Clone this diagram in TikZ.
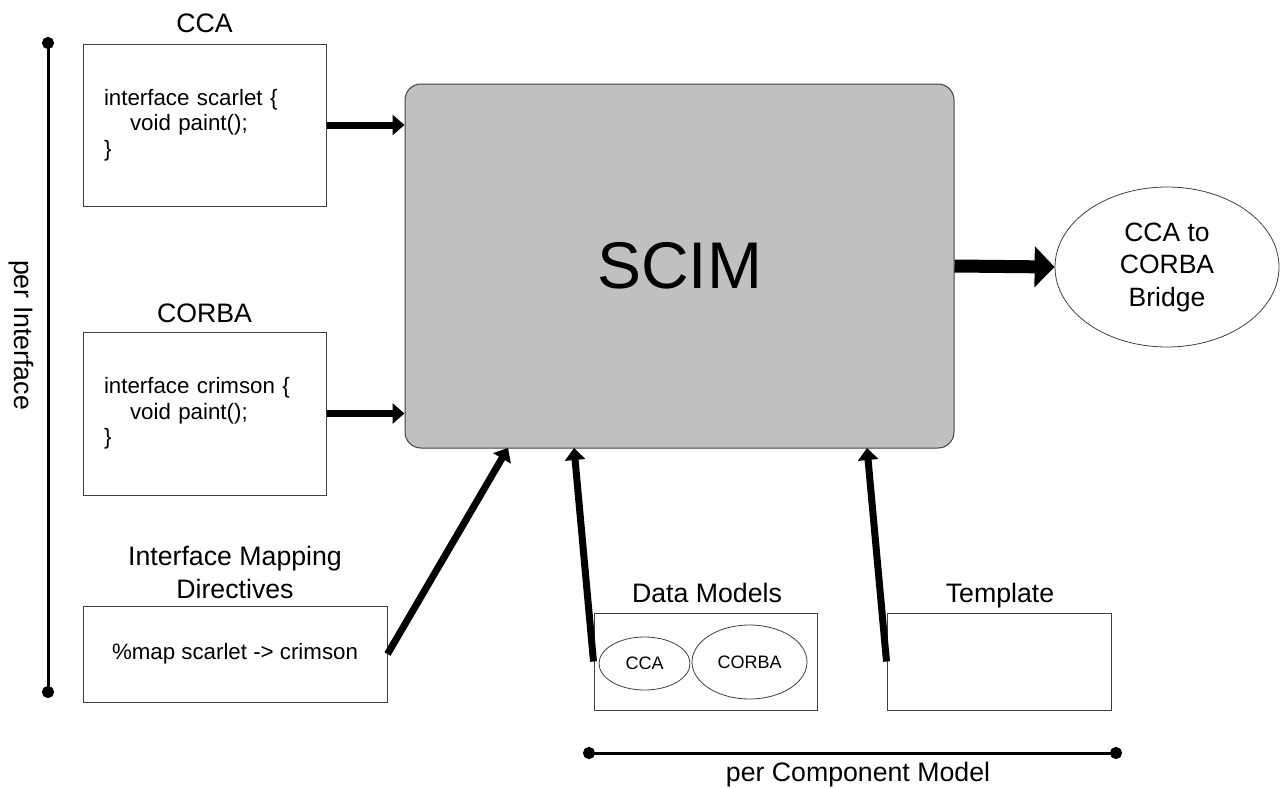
\documentclass[tikz,border=0pt]{standalone}
\usepackage{fontspec}
\setmainfont{Liberation Sans}
\usetikzlibrary{arrows.meta,shapes.geometric}
\definecolor{scimgray}{RGB}{192,192,192}
\definecolor{edgegray}{RGB}{64,64,64}
\begin{document}
\begin{tikzpicture}[x=1pt,y=-1pt,
  box/.style={draw=edgegray, line width=1pt, rectangle, inner sep=0pt, fill=white},
  codebox/.style={box, minimum width=243pt, minimum height=162pt, text width=201pt, align=left, inner xsep=21pt, font=\fontsize{22.3}{25.5}\selectfont},
  heading/.style={font=\fontsize{26.7}{33}\selectfont, inner sep=0pt, anchor=base},
  oval/.style={ellipse, draw=edgegray, line width=0.8pt, inner sep=0pt, fill=white},
  feed/.style={line width=7pt, -{Triangle[width=20pt,length=12pt]}},
  bigfeed/.style={line width=13pt, -{Triangle[width=40pt,length=20pt]}},
  span/.style={line width=3pt, {Circle[length=12pt]}-{Circle[length=12pt]}}
]
\useasboundingbox (0,0) rectangle (1281,787);

% main block
\node[rectangle, rounded corners=16pt, draw=edgegray, line width=1pt, fill=scimgray,
      minimum width=549pt, minimum height=364pt, inner sep=0pt,
      font=\fontsize{66}{70}\selectfont] (scim) at (679.5,266) {SCIM};

% interface boxes
\node[codebox] (cca) at (204.5,125) {interface scarlet \{\\\hspace*{26pt}void paint();\\\}};
\node[codebox, minimum height=163pt] (corba) at (204.5,413.5) {interface crimson \{\\\hspace*{26pt}void paint();\\\}};
\node[box, minimum width=304pt, minimum height=96pt, font=\fontsize{22.3}{25.5}\selectfont] (map) at (235,654) {\%map scarlet -> crimson};

% data models and template
\node[box, minimum width=223pt, minimum height=97pt] (dm) at (705.5,661.5) {};
\node[oval, minimum width=91pt, minimum height=53pt, font=\fontsize{18}{20}\selectfont] (dmcca) at (644.5,663.5) {CCA};
\node[oval, minimum width=115pt, minimum height=74pt, font=\fontsize{18}{20}\selectfont] (dmcorba) at (749.5,662) {CORBA};
\node[box, minimum width=224pt, minimum height=97pt] (tmpl) at (999,661.5) {};

% bridge
\node[oval, minimum width=224pt, minimum height=160pt, align=center,
      font=\fontsize{26.5}{32.5}\selectfont] (bridge) at (1167,267) {CCA to\\CORBA\\Bridge};

% headings
\node[heading] (hcca) at (204.5,32) {CCA};
\node[heading] (hcorba) at (204.5,322) {CORBA};
\node[heading, align=center] (hmap) at (235,598) {Interface Mapping\\Directives};
\node[heading] (hdm) at (707,602) {Data Models};
\node[heading] (htmpl) at (1000,602) {Template};
\node[heading] (hpc) at (858,781) {per Component Model};
\node[heading, rotate=-90, anchor=center] (hpi) at (21,335) {per Interface};

% arrow targets on SCIM bottom
\coordinate (t1) at (508,448);
\coordinate (t2) at (574,448);
\coordinate (t3) at (867,448);

% connectors
\draw[feed] (cca.east) -- (cca.east -| scim.west);
\draw[feed] (corba.east) -- (corba.east -| scim.west);
\draw[feed] (map.east) -- (t1);
\draw[feed] (dm.west) -- (t2);
\draw[feed] (tmpl.west) -- (t3);
\draw[bigfeed] (scim.east) -- (bridge.west);

% span markers
\coordinate (pi1) at (48,37);
\coordinate (pi2) at (48,698);
\coordinate (pc1) at (583,753);
\coordinate (pc2) at (1122,753);
\draw[span] (pi1) -- (pi2);
\draw[span] (pc1) -- (pc2);
\end{tikzpicture}
\end{document}
